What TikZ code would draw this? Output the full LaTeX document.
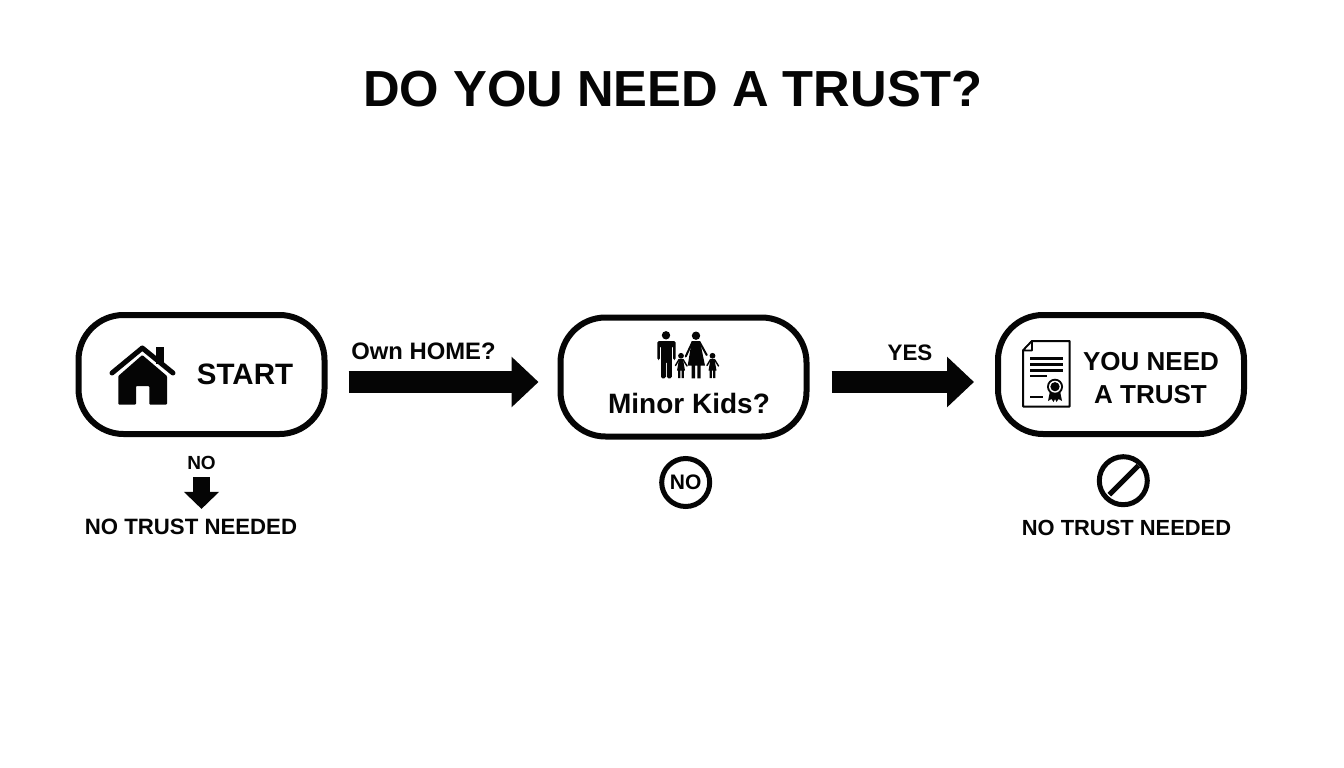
\documentclass[tikz,border=0pt]{standalone}
\usepackage{fontspec}
\setmainfont{Liberation Sans}[BoldFont={Liberation Sans Bold}]
\usetikzlibrary{arrows.meta}
\definecolor{ink}{HTML}{050505}
\newcommand{\fs}[1]{\fontsize{#1}{#1}\selectfont\bfseries}
\tikzset{
  flowbox/.style={draw=ink,line width=6pt,rounded corners=45pt,minimum width=246pt,minimum height=119pt,inner sep=0pt,fill=white},
  label/.style={inner sep=0pt,text=ink,align=center},
  bigarrow/.style={draw=ink,line width=22pt,-{Triangle[length=27pt,width=49pt]}},
  smallarrow/.style={draw=ink,line width=17pt,-{Triangle[length=17pt,width=34pt]}},
  ring/.style={draw=ink,line width=5pt,circle,inner sep=0pt,minimum size=48pt,fill=white},
  solidicon/.style={fill=ink,draw=none},
  lineicon/.style={draw=ink,line cap=round,line join=round},
}
\begin{document}
\begin{tikzpicture}[x=1pt,y=-1pt]
\useasboundingbox[fill=white] (0,0) rectangle (1344,768);
\node[label] (title) at (673,89) {\fs{50.7}DO YOU NEED A TRUST?};
% boxes
\node[flowbox] (start) at (201.5,374.5) {};
\node[flowbox] (minor) at (683.5,377) {};
\node[flowbox] (trust) at (1121,374.5) {};
% texts
\node[label] (starttext) at (245,374.5) {\fs{29.5}START};
\node[label] (minortext) at (689,403) {\fs{28}Minor Kids?};
\node[label] (trusttext1) at (1151,362) {\fs{26}YOU NEED};
\node[label] (trusttext2) at (1150.5,394.5) {\fs{26}A TRUST};
\node[label] (ownhome) at (423.5,351) {\fs{23.8}Own HOME?};
\node[label] (yes) at (910,353) {\fs{22.4}YES};
\node[label] (no1) at (201.5,463) {\fs{19}NO};
\node[label] (nt1) at (191,527) {\fs{22.2}NO TRUST NEEDED};
\node[label] (nt3) at (1126.5,528) {\fs{21.9}NO TRUST NEEDED};
\node[ring] (no2) at (685.7,482.5) {\fs{21}NO};
\node[ring] (nosign) at (1123.3,480.7) {};
\draw[draw=ink,line width=5pt] (nosign.center)+(-14,14) -- +(15,-15);
% connectors
\draw[bigarrow,shorten <=21pt,shorten >=19pt] ([yshift=-7.5pt]start.east) -- ([yshift=-5pt]minor.west);
\draw[bigarrow,shorten <=22pt,shorten >=21pt] ([yshift=-5pt]minor.east) -- ([yshift=-7.5pt]trust.west);
\draw[smallarrow,shorten <=7.5pt,shorten >=10pt] (no1.south) -- (no1.south |- nt1.north);
% house
\fill[solidicon] (155.7,347.3) rectangle (164,364);
\draw[lineicon,line width=5pt] (112,373) -- (142.3,348) -- (173,373);
\fill[solidicon,rounded corners=0.8pt] (142.3,355) -- (167,376) -- (167,404.5) -- (149.3,404.5) -- (149.3,386) -- (136,386) -- (136,404.5) -- (118.3,404.5) -- (118.3,376) -- cycle;
% family: man
\fill[solidicon] (666,335.3) circle (4.2);
\fill[solidicon,rounded corners=1.5pt] (657.3,341) -- (675.7,341) -- (675.7,360) -- (673.2,360) -- (673.2,346) -- (671.8,346) -- (671.8,378.3) -- (666.9,378.3) -- (666.9,361.5) -- (665.9,361.5) -- (665.9,378.3) -- (661,378.3) -- (661,346) -- (659.8,346) -- (659.8,360) -- (657.3,360) -- cycle;
% family: woman
\fill[solidicon] (696,335.7) circle (4.2);
\fill[solidicon] (691.7,341) -- (700,341) -- (705,365.7) -- (700.7,365.7) -- (700.7,378.3) -- (697.3,378.3) -- (697.3,365.7) -- (695,365.7) -- (695,378.3) -- (691.7,378.3) -- (691.7,365.7) -- (687.7,365.7) -- cycle;
\draw[lineicon,line width=2pt] (692.5,342) -- (685.7,356.5);
\draw[lineicon,line width=2pt] (699.5,342) -- (706.7,355);
% family: children
\foreach \cx in {681,712.5}{
  \fill[solidicon] (\cx,355.8) circle (2.9);
  \fill[solidicon] (\cx-2,359) -- (\cx+2,359) -- (\cx+4,370.7) -- (\cx+2.8,370.7) -- (\cx+2.8,378) -- (\cx+0.6,378) -- (\cx+0.6,370.7) -- (\cx-0.6,370.7) -- (\cx-0.6,378) -- (\cx-2.8,378) -- (\cx-2.8,370.7) -- (\cx-4,370.7) -- cycle;
  \draw[lineicon,line width=1.4pt] (\cx-2,359.5) -- (\cx-5.5,365.5);
  \draw[lineicon,line width=1.4pt] (\cx+2,359.5) -- (\cx+6,366);
}
% document
\draw[lineicon,line width=2pt] (1032,341) -- (1069.5,341) -- (1069.5,406.5) -- (1023,406.5) -- (1023,350.5) -- cycle;
\draw[lineicon,line width=1.6pt,fill=white] (1032,341) -- (1032,350.5) -- (1023,350.5) -- cycle;
\draw[draw=ink,line width=2.4pt] (1030,358.3) -- (1062.7,358.3);
\draw[draw=ink,line width=2.4pt] (1030,364.3) -- (1062.7,364.3);
\draw[draw=ink,line width=2.4pt] (1030,370.3) -- (1062.7,370.3);
\draw[draw=ink,line width=2.4pt] (1030,376) -- (1047.3,376);
\draw[draw=ink,line width=2.4pt] (1030,396.7) -- (1043.3,396.7);
\fill[solidicon] (1050,391) -- (1060,391) -- (1062,401) -- (1058.5,399) -- (1056.5,402) -- (1055,399) -- (1053.5,402) -- (1051.5,399) -- (1048,401) -- cycle;
\fill[solidicon] (1055,386.7) circle (8);
\fill[white] (1055,386.7) circle (6);
\fill[solidicon] (1055,386.7) circle (4.6);
\end{tikzpicture}
\end{document}
